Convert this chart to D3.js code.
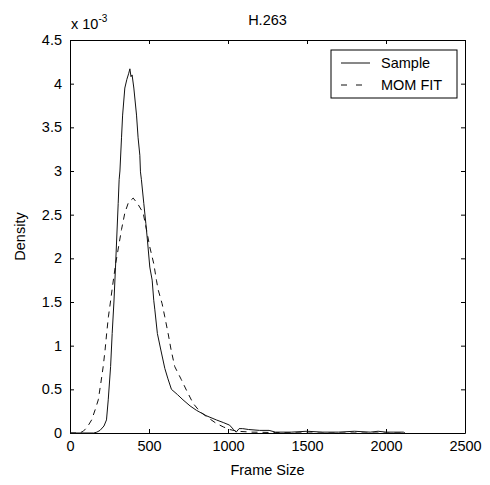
<!DOCTYPE html>
<html>
<head>
<meta charset="utf-8">
<script src="https://cdn.jsdelivr.net/npm/d3@7"></script>
<style>
  body { margin: 0; background: #fff; }
  text { font-family: Arial, "Liberation Sans", sans-serif; font-size: 14.5px; fill: #000; }
</style>
</head>
<body>
<svg id="chart" width="490" height="485"></svg>
<script>
// frame size, density (x 1e-3)
const sampleSize = [0, 150, 170, 190, 215, 231, 242, 257, 267, 278, 288, 305, 311, 316, 326, 333, 347, 360, 372, 379, 386, 393, 404, 421, 431, 442, 446, 452, 467, 480, 490, 505, 520, 530, 537, 553, 575, 600, 620, 642, 680, 715, 760, 800, 860, 926, 970, 1010, 1035, 1052, 1070, 1093, 1130, 1200, 1260, 1300, 1400, 1500, 1600, 1700, 1800, 1900, 1950, 2000, 2050, 2110, 2120];
const sampleDensity = [0, 0, 0.01, 0.03, 0.08, 0.15, 0.38, 0.76, 1.14, 1.5, 1.9, 2.63, 2.9, 3.0, 3.38, 3.64, 3.95, 4.05, 4.12, 4.17, 4.08, 4.1, 3.95, 3.64, 3.38, 3.18, 2.99, 2.9, 2.63, 2.4, 2.21, 1.9, 1.75, 1.52, 1.41, 1.14, 0.95, 0.74, 0.62, 0.5, 0.44, 0.38, 0.31, 0.26, 0.2, 0.15, 0.12, 0.09, 0.04, 0.01, 0.05, 0.05, 0.04, 0.03, 0.03, 0.01, 0.01, 0.02, 0.01, 0.01, 0.02, 0.01, 0.02, 0.01, 0.01, 0.01, 0];

const fitSize = [0, 60, 84, 110, 137, 160, 179, 195, 210, 222, 232, 243, 256, 269, 290, 311, 326, 347, 370, 400, 430, 463, 485, 505, 530, 547, 558, 583, 600, 621, 640, 663, 705, 737, 779, 820, 870, 926, 970, 1010, 1060, 1150, 1300, 1500, 2100];
const fitDensity = [0, 0, 0.02, 0.07, 0.15, 0.27, 0.38, 0.57, 0.76, 0.95, 1.14, 1.33, 1.5, 1.68, 1.95, 2.17, 2.33, 2.52, 2.64, 2.69, 2.62, 2.52, 2.32, 2.13, 1.94, 1.75, 1.64, 1.48, 1.33, 1.14, 0.95, 0.76, 0.61, 0.49, 0.34, 0.25, 0.18, 0.11, 0.07, 0.04, 0.02, 0.01, 0.005, 0, 0];

const xTicks = [0, 500, 1000, 1500, 2000, 2500];
const yTicks = [0, 0.5, 1, 1.5, 2, 2.5, 3, 3.5, 4, 4.5];
const legendLabels = ["Sample", "MOM FIT"];

const MARGIN = { LEFT: 70, TOP: 40, RIGHT: 25, BOTTOM: 52 };
const width = 490, height = 485;

const svg = d3.select("#chart");

const x = d3.scaleLinear().domain([0, 2500]).range([MARGIN.LEFT, width - MARGIN.RIGHT]);
const y = d3.scaleLinear().domain([0, 4.5]).range([height - MARGIN.BOTTOM, MARGIN.TOP]);

const tickLen = 4;

// axes with inward ticks, box on
svg.append("g")
  .attr("transform", `translate(0,${y(0)})`)
  .call(d3.axisBottom(x).tickValues(xTicks).tickSizeInner(-tickLen).tickSizeOuter(0).tickPadding(8).tickFormat(d3.format("d")))
  .call(g => g.selectAll("text").attr("dy", "0.71em"));
svg.append("g")
  .attr("transform", `translate(0,${y(4.5)})`)
  .call(d3.axisTop(x).tickValues(xTicks).tickSizeInner(-tickLen).tickSizeOuter(0).tickFormat(""));
svg.append("g")
  .attr("transform", `translate(${x(0)},0)`)
  .call(d3.axisLeft(y).tickValues(yTicks).tickSizeInner(-tickLen).tickSizeOuter(0).tickPadding(8).tickFormat(d3.format("")));
svg.append("g")
  .attr("transform", `translate(${x(2500)},0)`)
  .call(d3.axisRight(y).tickValues(yTicks).tickSizeInner(-tickLen).tickSizeOuter(0).tickFormat(""));

svg.selectAll(".domain, .tick line").attr("stroke", "#000").attr("stroke-width", 1);
svg.selectAll(".tick text").style("font-size", "14.5px").attr("font-family", null);

const line = d3.line().x(d => x(d[0])).y(d => y(d[1]));

svg.append("path")
  .datum(d3.zip(sampleSize, sampleDensity))
  .attr("d", line)
  .attr("fill", "none")
  .attr("stroke", "#111")
  .attr("stroke-width", 1);

svg.append("path")
  .datum(d3.zip(fitSize, fitDensity))
  .attr("d", line)
  .attr("fill", "none")
  .attr("stroke", "#111")
  .attr("stroke-width", 1)
  .attr("stroke-dasharray", "6,5");

// labels
svg.append("text")
  .attr("x", (x(0) + x(2500)) / 2)
  .attr("y", 25)
  .attr("text-anchor", "middle")
  .text("H.263");

svg.append("text")
  .attr("x", (x(0) + x(2500)) / 2)
  .attr("y", 475)
  .attr("text-anchor", "middle")
  .text("Frame Size");

svg.append("text")
  .attr("transform", `translate(25,${(y(0) + y(4.5)) / 2}) rotate(-90)`)
  .attr("text-anchor", "middle")
  .text("Density");

const expo = svg.append("text").attr("x", 71).attr("y", 29);
expo.append("tspan").text("x 10");
expo.append("tspan").attr("dy", -7).style("font-size", "10px").text("-3");

// legend
const lg = svg.append("g").attr("transform", "translate(331,50)");
lg.append("rect")
  .attr("width", 126)
  .attr("height", 48)
  .attr("fill", "#fff")
  .attr("stroke", "#000")
  .attr("stroke-width", 1);

legendLabels.forEach((label, i) => {
  const cy = 13 + i * 22;
  lg.append("line")
    .attr("x1", 10).attr("x2", 39)
    .attr("y1", cy).attr("y2", cy)
    .attr("stroke", "#111")
    .attr("stroke-dasharray", i === 1 ? "6,9" : null);
  lg.append("text")
    .attr("x", 50)
    .attr("y", cy)
    .attr("dy", "0.35em")
    .text(label);
});
</script>
</body>
</html>
